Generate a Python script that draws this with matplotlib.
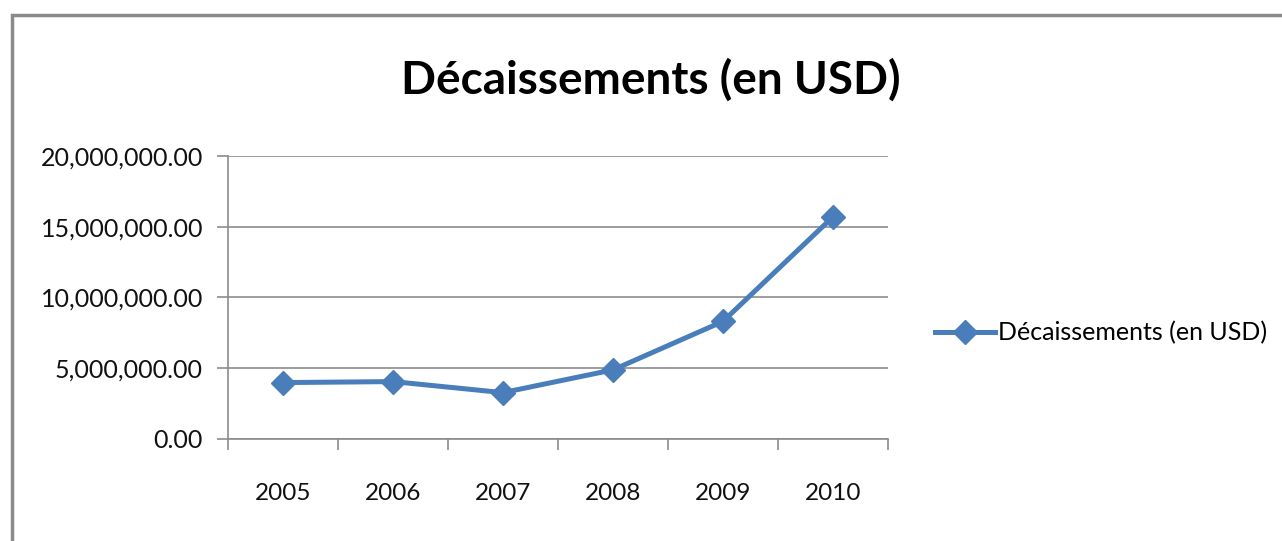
import matplotlib.pyplot as plt
from matplotlib.patches import Rectangle
from matplotlib.ticker import FuncFormatter

plt.rcParams['font.family'] = ['Lato', 'DejaVu Sans']

years = ['2005', '2006', '2007', '2008', '2009', '2010']
values = [3970000, 4040000, 3260000, 4870000, 8300000, 15700000]
series_name = 'Décaissements (en USD)'
title = 'Décaissements (en USD)'

blue = '#4A7EBB'
grey = '#8C8C8C'

fig = plt.figure(figsize=(12.82, 5.41), dpi=100)
ax = fig.add_axes([228 / 1282, 1 - 438.7 / 541, 660 / 1282, 282.7 / 541])

x = list(range(len(years)))
ax.plot(x, values, color=blue, lw=3.6, marker='D', markersize=12,
        markerfacecolor=blue, markeredgecolor=blue, label=series_name)

ax.set_xlim(-0.5, len(years) - 0.5)
ax.set_ylim(0, 20000000)
ax.set_yticks([0, 5000000, 10000000, 15000000, 20000000])
ax.yaxis.set_major_formatter(FuncFormatter(lambda v, p: f'{v:,.2f}'))
ax.set_xticks(x)
ax.set_xticklabels(years)
ax.set_xticks([i - 0.5 for i in range(len(years) + 1)], minor=True)
ax.tick_params(axis='x', which='major', length=0, pad=32, labelsize=17.5, colors='#111111')
ax.tick_params(axis='x', which='minor', length=8, width=1.2, color=grey)
ax.tick_params(axis='y', length=8, width=1.2, color=grey, pad=10, labelsize=18, labelcolor='#111111')

ax.grid(axis='y', color=grey, lw=1.2)
ax.set_axisbelow(True)
for s in ['top', 'right']:
    ax.spines[s].set_visible(False)
for s in ['left', 'bottom']:
    ax.spines[s].set_color(grey)
    ax.spines[s].set_linewidth(1.2)

fig.text(651 / 1282, 1 - 80 / 541, title, ha='center', va='center',
         fontsize=33, fontweight='bold', color='black')

fig.legend(loc='center left', bbox_to_anchor=(925 / 1282, 1 - 333 / 541),
           frameon=False, fontsize=18, handlelength=2.4, handletextpad=0.1,
           borderaxespad=0)

fig.patches.append(Rectangle((12 / 1282, -0.5), 3.0, 1.5 - 15 / 541,
                             transform=fig.transFigure, fill=False,
                             edgecolor='#8a8a8a', lw=2.5))

fig.savefig('out.png', dpi=100)
